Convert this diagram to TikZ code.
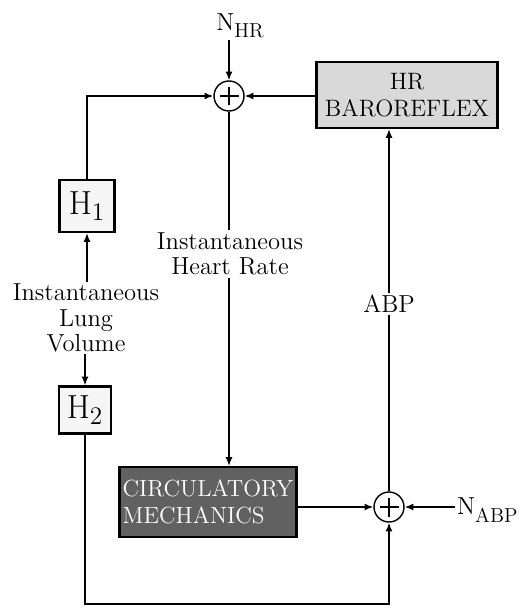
\documentclass[tikz,border=0pt]{standalone}
\usepackage{tikz}
\usetikzlibrary{arrows.meta,calc}

\tikzset{
	blockbox/.style={draw, line width=1.3pt, inner sep=1pt},
	sumnode/.style={circle, draw, thick, fill=white, minimum size=0.6cm, inner sep=0pt,
		path picture={
			\draw[line width=1.4pt] ($(path picture bounding box.center)+(-0.19cm,0cm)$) -- ++(0.38cm,0cm);
			\draw[line width=1.4pt] ($(path picture bounding box.center)+(0cm,-0.19cm)$) -- ++(0cm,0.38cm);
		}},
	wire/.style={thick},
	sig/.style={wire, -{Latex[length=5pt,width=4pt]}},
	lbl/.style={align=center, font=\fontsize{14}{14.5}\selectfont, inner sep=1pt},
}
\newcommand{\noisesub}[1]{\raisebox{-0.7ex}{\fontsize{11.5}{12}\selectfont #1}}

\begin{document}
\begin{tikzpicture}[x=0.02cm, y=-0.02cm]

		% === frame (pixel units, y down) ===
		\useasboundingbox (0,0) rectangle (519,608);

		% === Blocks ===
		\node[blockbox, fill=gray!30, align=center, minimum width=3.62cm, minimum height=1.32cm,
			font=\fontsize{13.5}{15}\selectfont] (baro) at (407,95) {HR\\BAROREFLEX};
		\node[blockbox, fill=black!62, text=white, align=left, minimum width=3.54cm, minimum height=1.4cm,
			font=\fontsize{13.3}{15}\selectfont] (circ) at (208,502) {CIRCULATORY\\MECHANICS};
		\node[blockbox, fill=gray!8, minimum width=1.1cm, minimum height=1.04cm,
			font=\fontsize{19}{19}\selectfont] (hone) at (87,206) {H$_1$};
		\node[blockbox, fill=gray!8, minimum width=1.04cm, minimum height=0.94cm,
			font=\fontsize{19}{19}\selectfont] (htwo) at (85,410) {H$_2$};

		% === Summing junctions ===
		\node[sumnode] (sumhr) at (229,96) {};
		\node[sumnode] (sumabp) at (389,507) {};

		% === Signal labels ===
		\node[lbl] (nhr) at (240,26) {N\noisesub{HR}};
		\node[lbl, anchor=west] (nabp) at (455,510) {N\noisesub{ABP}};
		\node[lbl] (heart) at (230,254) {Instantaneous\\Heart Rate};
		\node[lbl] (lung) at (86,318) {Instantaneous\\Lung\\Volume};
		\node[lbl] (abp) at (389,304) {ABP};
		\coordinate (floor) at (85,604);

		% === Connectors ===
		\draw[sig] (nhr.south -| sumhr) -- (sumhr.north);				% noise into HR sum
		\draw[sig] (baro.west |- sumhr) -- (sumhr.east);				% baroreflex feedback
		\draw[sig] (hone.north) |- (sumhr.west);						% H1 into HR sum
		\draw[sig] (lung.north -| hone) -- (hone.south);
		\draw[sig] (lung.south -| htwo) -- (htwo.north);
		\draw[wire] (sumhr.south) -- (heart.north -| sumhr);
		\draw[sig] (heart.south -| sumhr) -- (circ.north -| sumhr);	% heart rate drives mechanics
		\draw[sig] (circ.east |- sumabp) -- (sumabp.west);
		\draw[sig] (nabp.west |- sumabp) -- (sumabp.east);			% noise into ABP sum
		\draw[wire] (sumabp.north) -- (abp.south);
		\draw[sig] (abp.north) -- (baro.south -| abp);				% ABP up to baroreflex
		\draw[sig] (htwo.south) -- (floor) -| (sumabp.south);			% H2 into ABP sum
	\end{tikzpicture}
\end{document}
